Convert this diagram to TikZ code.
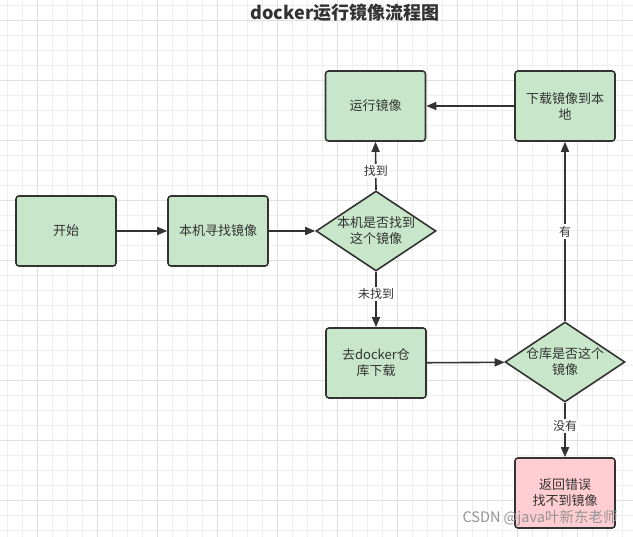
\documentclass[tikz,border=0pt]{standalone}
\usepackage{fontspec}
\setmainfont{Noto Sans CJK SC}
\usetikzlibrary{shapes.geometric,arrows.meta}

\definecolor{boxgreen}{HTML}{C8E6C9}
\definecolor{boxred}{HTML}{FFCDD2}
\definecolor{strokegray}{HTML}{333333}
\definecolor{gridminor}{HTML}{EEEEEE}
\definecolor{gridmajor}{HTML}{E0E0E0}

\tikzset{
  box/.style={rectangle, draw=strokegray, line width=1.6pt, rounded corners=3pt,
    fill=boxgreen, minimum width=100pt, minimum height=70pt, align=center,
    text=strokegray, font=\fontsize{13}{16}\selectfont},
  decision/.style={diamond, draw=strokegray, line width=1.6pt, fill=boxgreen,
    minimum width=120pt, minimum height=80pt, inner sep=0pt,
    label={[align=center, text=strokegray, font=\fontsize{13}{16}\selectfont]center:#1}},
  flow/.style={draw=strokegray, line width=1.6pt, ->},
  flowlabel/.style={fill=white, text=strokegray, inner sep=1.5pt,
    font=\fontsize{12}{14}\selectfont}
}

\begin{document}
\begin{tikzpicture}[x=1pt, y=-1pt, >={Triangle[length=10pt,width=8pt]}]
        \useasboundingbox (0,0) rectangle (633,537);
        \fill[white] (0,0) rectangle (633,537);
        
        % grid
        \foreach \x in {7.3,22.3,...,633} \draw[gridminor, line width=0.8pt] (\x,0) -- (\x,537);
        \foreach \y in {5,20,...,537} \draw[gridminor, line width=0.8pt] (0,\y) -- (633,\y);
        \foreach \x in {37.3,97.3,...,633} \draw[gridmajor, line width=0.9pt] (\x,0) -- (\x,537);
        \foreach \y in {20,80,...,537} \draw[gridmajor, line width=0.9pt] (0,\y) -- (633,\y);
        
        \node[text=strokegray, font=\fontsize{18}{20}\selectfont\bfseries] (title) at (345,13) {docker运行镜像流程图};
        
        % steps
        \node[box] (start) at (66,231) {开始};
        \node[box] (search) at (218,231) {本机寻找镜像};
        \node[decision={本机是否找到\\这个镜像}] (check) at (376,231) {};
        \node[box] (run) at (375.5,106) {运行镜像};
        \node[box] (load) at (565,106) {下载镜像到本\\地};
        \node[box] (pull) at (376,363) {去docker仓\\库下载};
        \node[decision={仓库是否这个\\镜像}] (check2) at (565,362) {};
        \node[box, fill=boxred] (fail) at (565,493) {返回错误\\找不到镜像};
        
        % connectors
        \draw[flow] (start) -- (search);
        \draw[flow] (search) -- (check);
        \draw[flow] (check.north) -- node[flowlabel, pos=0.4] {找到} (run.south);
        \draw[flow] (check.south) -- node[flowlabel, pos=0.4] {未找到} (pull.north);
        \draw[flow] (pull) -- (check2);
        \draw[flow] (check2.south) -- node[flowlabel, pos=0.42] {没有} (fail.north);
        \draw[flow] (check2.north) -- node[flowlabel, pos=0.5] {有} (load.south);
        \draw[flow] (load) -- (run);
        
        \node[text=black!42, font=\fontsize{14.5}{16}\selectfont] (mark) at (540,518) {CSDN @java叶新东老师};
        
\end{tikzpicture}
\end{document}
